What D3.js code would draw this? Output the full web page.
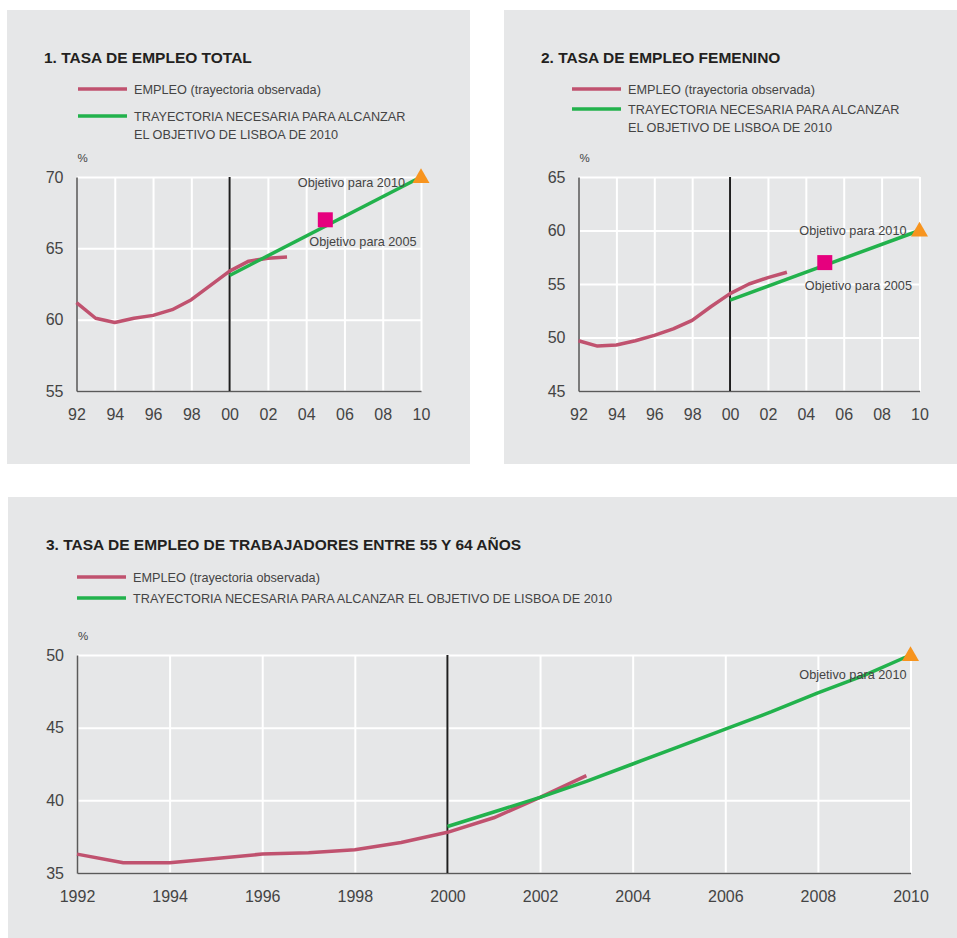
<!DOCTYPE html>
<html>
<head>
<meta charset="utf-8">
<script src="https://cdn.jsdelivr.net/npm/d3@7"></script>
<style>
  html, body { margin: 0; padding: 0; background: #ffffff; }
  svg { display: block; }
  text { font-family: "Liberation Sans", Arial, Helvetica, sans-serif; }
</style>
</head>
<body>
<svg id="chart" width="957" height="938"></svg>
<script>
// ---- Data -------------------------------------------------------------
const observedYears = [1992, 1993, 1994, 1995, 1996, 1997, 1998, 1999, 2000, 2001, 2002, 2003];

// 1. Tasa de empleo total
const empleoTotal = [61.2, 60.1, 59.8, 60.1, 60.3, 60.7, 61.4, 62.4, 63.4, 64.1, 64.3, 64.4];
const trayectoriaTotalYears = [2000, 2010];
const trayectoriaTotal = [63.1, 70.0];
const objetivosTotal = [{ year: 2005, value: 67, label: "Objetivo para 2005" },
                        { year: 2010, value: 70, label: "Objetivo para 2010" }];

// 2. Tasa de empleo femenino
const empleoFemenino = [49.7, 49.2, 49.3, 49.7, 50.2, 50.8, 51.6, 52.9, 54.1, 55.0, 55.6, 56.1];
const trayectoriaFemeninoYears = [2000, 2010];
const trayectoriaFemenino = [53.5, 60.0];
const objetivosFemenino = [{ year: 2005, value: 57, label: "Objetivo para 2005" },
                           { year: 2010, value: 60, label: "Objetivo para 2010" }];

// 3. Tasa de empleo de trabajadores entre 55 y 64 años
const empleoMayores = [36.3, 35.7, 35.7, 36.0, 36.3, 36.4, 36.6, 37.1, 37.8, 38.8, 40.2, 41.7];
const trayectoriaMayoresYears = [2000, 2001, 2002, 2003, 2004, 2005, 2006, 2007, 2008, 2009, 2010];
const trayectoriaMayores = [38.2, 39.2, 40.2, 41.3, 42.5, 43.7, 44.9, 46.1, 47.4, 48.6, 50.0];
const objetivosMayores = [{ year: 2010, value: 50, label: "Objetivo para 2010" }];

// Axis ticks
const xTicks = [1992, 1994, 1996, 1998, 2000, 2002, 2004, 2006, 2008, 2010];
const xTickLabelsShort = ["92", "94", "96", "98", "00", "02", "04", "06", "08", "10"];
const xTickLabelsLong = ["1992", "1994", "1996", "1998", "2000", "2002", "2004", "2006", "2008", "2010"];
const yTicksTotal = [55, 60, 65, 70];
const yTicksFemenino = [45, 50, 55, 60, 65];
const yTicksMayores = [35, 40, 45, 50];

const legendLabels = ["EMPLEO (trayectoria observada)",
                      "TRAYECTORIA NECESARIA PARA ALCANZAR EL OBJETIVO DE LISBOA DE 2010"];

// ---- Styles -----------------------------------------------------------
const COL = {
  panel: "#e6e7e8",
  empleo: "#c0526f",
  trayectoria: "#22b24c",
  square: "#e6007e",
  triangle: "#f7941e",
  text: "#444444",
  title: "#231f20",
  axis: "#5a5a5a",
  grid: "#ffffff",
  ref: "#1e1e1e"
};

const svg = d3.select("#chart");

function drawPanel(cfg) {
  const g = svg.append("g");

  // panel background
  g.append("rect")
    .attr("x", cfg.box[0]).attr("y", cfg.box[1])
    .attr("width", cfg.box[2]).attr("height", cfg.box[3])
    .attr("fill", COL.panel);

  // title
  g.append("text")
    .attr("x", cfg.title.x).attr("y", cfg.title.y)
    .attr("font-size", 15.5).attr("font-weight", "bold")
    .attr("fill", COL.title)
    .text(cfg.title.text);

  // legend
  const lg = g.append("g");
  cfg.legend.forEach((item, i) => {
    lg.append("line")
      .attr("x1", cfg.legendX).attr("x2", cfg.legendX + 49)
      .attr("y1", item.y).attr("y2", item.y)
      .attr("stroke", i === 0 ? COL.empleo : COL.trayectoria)
      .attr("stroke-width", 3.5);
    const t = lg.append("text")
      .attr("x", cfg.legendX + 56).attr("y", item.y + 4.5)
      .attr("font-size", 12.7).attr("fill", COL.text);
    item.lines.forEach((ln, j) => {
      t.append("tspan").attr("x", cfg.legendX + 56)
        .attr("dy", j === 0 ? 0 : item.lineGap).text(ln);
    });
  });

  // scales
  const x = d3.scaleLinear().domain([1992, 2010]).range([cfg.plot.x0, cfg.plot.x1]);
  const y = d3.scaleLinear().domain(cfg.yDomain).range([cfg.plot.y1, cfg.plot.y0]);
  const w = cfg.plot.x1 - cfg.plot.x0;
  const h = cfg.plot.y1 - cfg.plot.y0;

  // "%" unit
  g.append("text")
    .attr("x", cfg.plot.x0 + 1).attr("y", cfg.plot.y0 - 15)
    .attr("font-size", 11.5).attr("fill", COL.text).text("%");

  // white grid
  g.append("g")
    .attr("transform", `translate(0,${cfg.plot.y1})`)
    .call(d3.axisBottom(x).tickValues(xTicks).tickSize(-h).tickFormat(""))
    .call(a => a.select(".domain").remove())
    .call(a => a.selectAll("line").attr("stroke", COL.grid).attr("stroke-width", 2));
  g.append("g")
    .attr("transform", `translate(${cfg.plot.x0},0)`)
    .call(d3.axisLeft(y).tickValues(cfg.yTicks).tickSize(-w).tickFormat(""))
    .call(a => a.select(".domain").remove())
    .call(a => a.selectAll("line").attr("stroke", COL.grid).attr("stroke-width", 2));

  // axis lines and labels
  const xAxis = g.append("g")
    .attr("transform", `translate(0,${cfg.plot.y1})`)
    .call(d3.axisBottom(x).tickValues(xTicks).tickSize(0).tickPadding(18)
      .tickFormat((d, i) => cfg.xLabels[i]));
  xAxis.select(".domain").attr("stroke", COL.axis).attr("stroke-width", 1.6);
  xAxis.selectAll("text").attr("font-size", 16).attr("fill", COL.text)
    .attr("font-family", '"Liberation Sans", Arial, sans-serif');

  const yAxis = g.append("g")
    .attr("transform", `translate(${cfg.plot.x0},0)`)
    .call(d3.axisLeft(y).tickValues(cfg.yTicks).tickSize(0).tickPadding(13));
  yAxis.select(".domain").attr("stroke", COL.axis).attr("stroke-width", 1.6);
  yAxis.selectAll("text").attr("font-size", 16).attr("fill", COL.text)
    .attr("font-family", '"Liberation Sans", Arial, sans-serif');

  // reference line at 2000
  g.append("line")
    .attr("x1", x(2000)).attr("x2", x(2000))
    .attr("y1", cfg.plot.y0).attr("y2", cfg.plot.y1)
    .attr("stroke", COL.ref).attr("stroke-width", 2);

  const line = d3.line().x(d => x(d[0])).y(d => y(d[1]));

  // observed employment
  g.append("path")
    .datum(observedYears.map((yr, i) => [yr, cfg.empleo[i]]))
    .attr("d", line).attr("fill", "none")
    .attr("stroke", COL.empleo).attr("stroke-width", 3.5)
    .attr("stroke-linejoin", "round");

  // required trajectory
  g.append("path")
    .datum(cfg.trayYears.map((yr, i) => [yr, cfg.tray[i]]))
    .attr("d", line).attr("fill", "none")
    .attr("stroke", COL.trayectoria).attr("stroke-width", 3.5)
    .attr("stroke-linejoin", "round");

  // targets
  cfg.objetivos.forEach((o, i) => {
    const px = x(o.year), py = y(o.value);
    if (o.year === 2010) {
      g.append("path")
        .attr("d", d3.symbol().type(d3.symbolTriangle).size(125)())
        .attr("transform", `translate(${px},${py + 1})`)
        .attr("fill", COL.triangle);
    } else {
      g.append("rect")
        .attr("x", px - 7.5).attr("y", py - 7.5)
        .attr("width", 15).attr("height", 15)
        .attr("fill", COL.square);
    }
    const off = cfg.labelOffsets[i];
    g.append("text")
      .attr("x", px + off[0]).attr("y", py + off[1])
      .attr("text-anchor", off[2])
      .attr("font-size", 12.7).attr("fill", COL.text)
      .text(o.label);
  });
}

// Panel 1
drawPanel({
  box: [7, 10, 463, 454],
  title: { x: 44, y: 63, text: "1. TASA DE EMPLEO TOTAL" },
  legendX: 78,
  legend: [
    { y: 89, lines: [legendLabels[0]], lineGap: 0 },
    { y: 116, lines: ["TRAYECTORIA NECESARIA PARA ALCANZAR", "EL OBJETIVO DE LISBOA DE 2010"], lineGap: 18 }
  ],
  plot: { x0: 76.5, x1: 421, y0: 177, y1: 391 },
  yDomain: [55, 70], yTicks: yTicksTotal, xLabels: xTickLabelsShort,
  empleo: empleoTotal, trayYears: trayectoriaTotalYears, tray: trayectoriaTotal,
  objetivos: objetivosTotal,
  labelOffsets: [[-16, 26, "start"], [-16, 10, "end"]]
});

// Panel 2
drawPanel({
  box: [504, 10, 453, 454],
  title: { x: 541, y: 63, text: "2. TASA DE EMPLEO FEMENINO" },
  legendX: 572,
  legend: [
    { y: 89, lines: [legendLabels[0]], lineGap: 0 },
    { y: 109, lines: ["TRAYECTORIA NECESARIA PARA ALCANZAR", "EL OBJETIVO DE LISBOA DE 2010"], lineGap: 18 }
  ],
  plot: { x0: 578.5, x1: 919.5, y0: 177, y1: 391 },
  yDomain: [45, 65], yTicks: yTicksFemenino, xLabels: xTickLabelsShort,
  empleo: empleoFemenino, trayYears: trayectoriaFemeninoYears, tray: trayectoriaFemenino,
  objetivos: objetivosFemenino,
  labelOffsets: [[-20, 27, "start"], [-13, 4, "end"]]
});

// Panel 3
drawPanel({
  box: [8, 497, 949, 441],
  title: { x: 46, y: 550, text: "3. TASA DE EMPLEO DE TRABAJADORES ENTRE 55 Y 64 AÑOS" },
  legendX: 77,
  legend: [
    { y: 577, lines: [legendLabels[0]], lineGap: 0 },
    { y: 598, lines: [legendLabels[1]], lineGap: 0 }
  ],
  plot: { x0: 77, x1: 910.5, y0: 655, y1: 873 },
  yDomain: [35, 50], yTicks: yTicksMayores, xLabels: xTickLabelsLong,
  empleo: empleoMayores, trayYears: trayectoriaMayoresYears, tray: trayectoriaMayores,
  objetivos: objetivosMayores,
  labelOffsets: [[-4, 24, "end"]]
});
</script>
</body>
</html>
